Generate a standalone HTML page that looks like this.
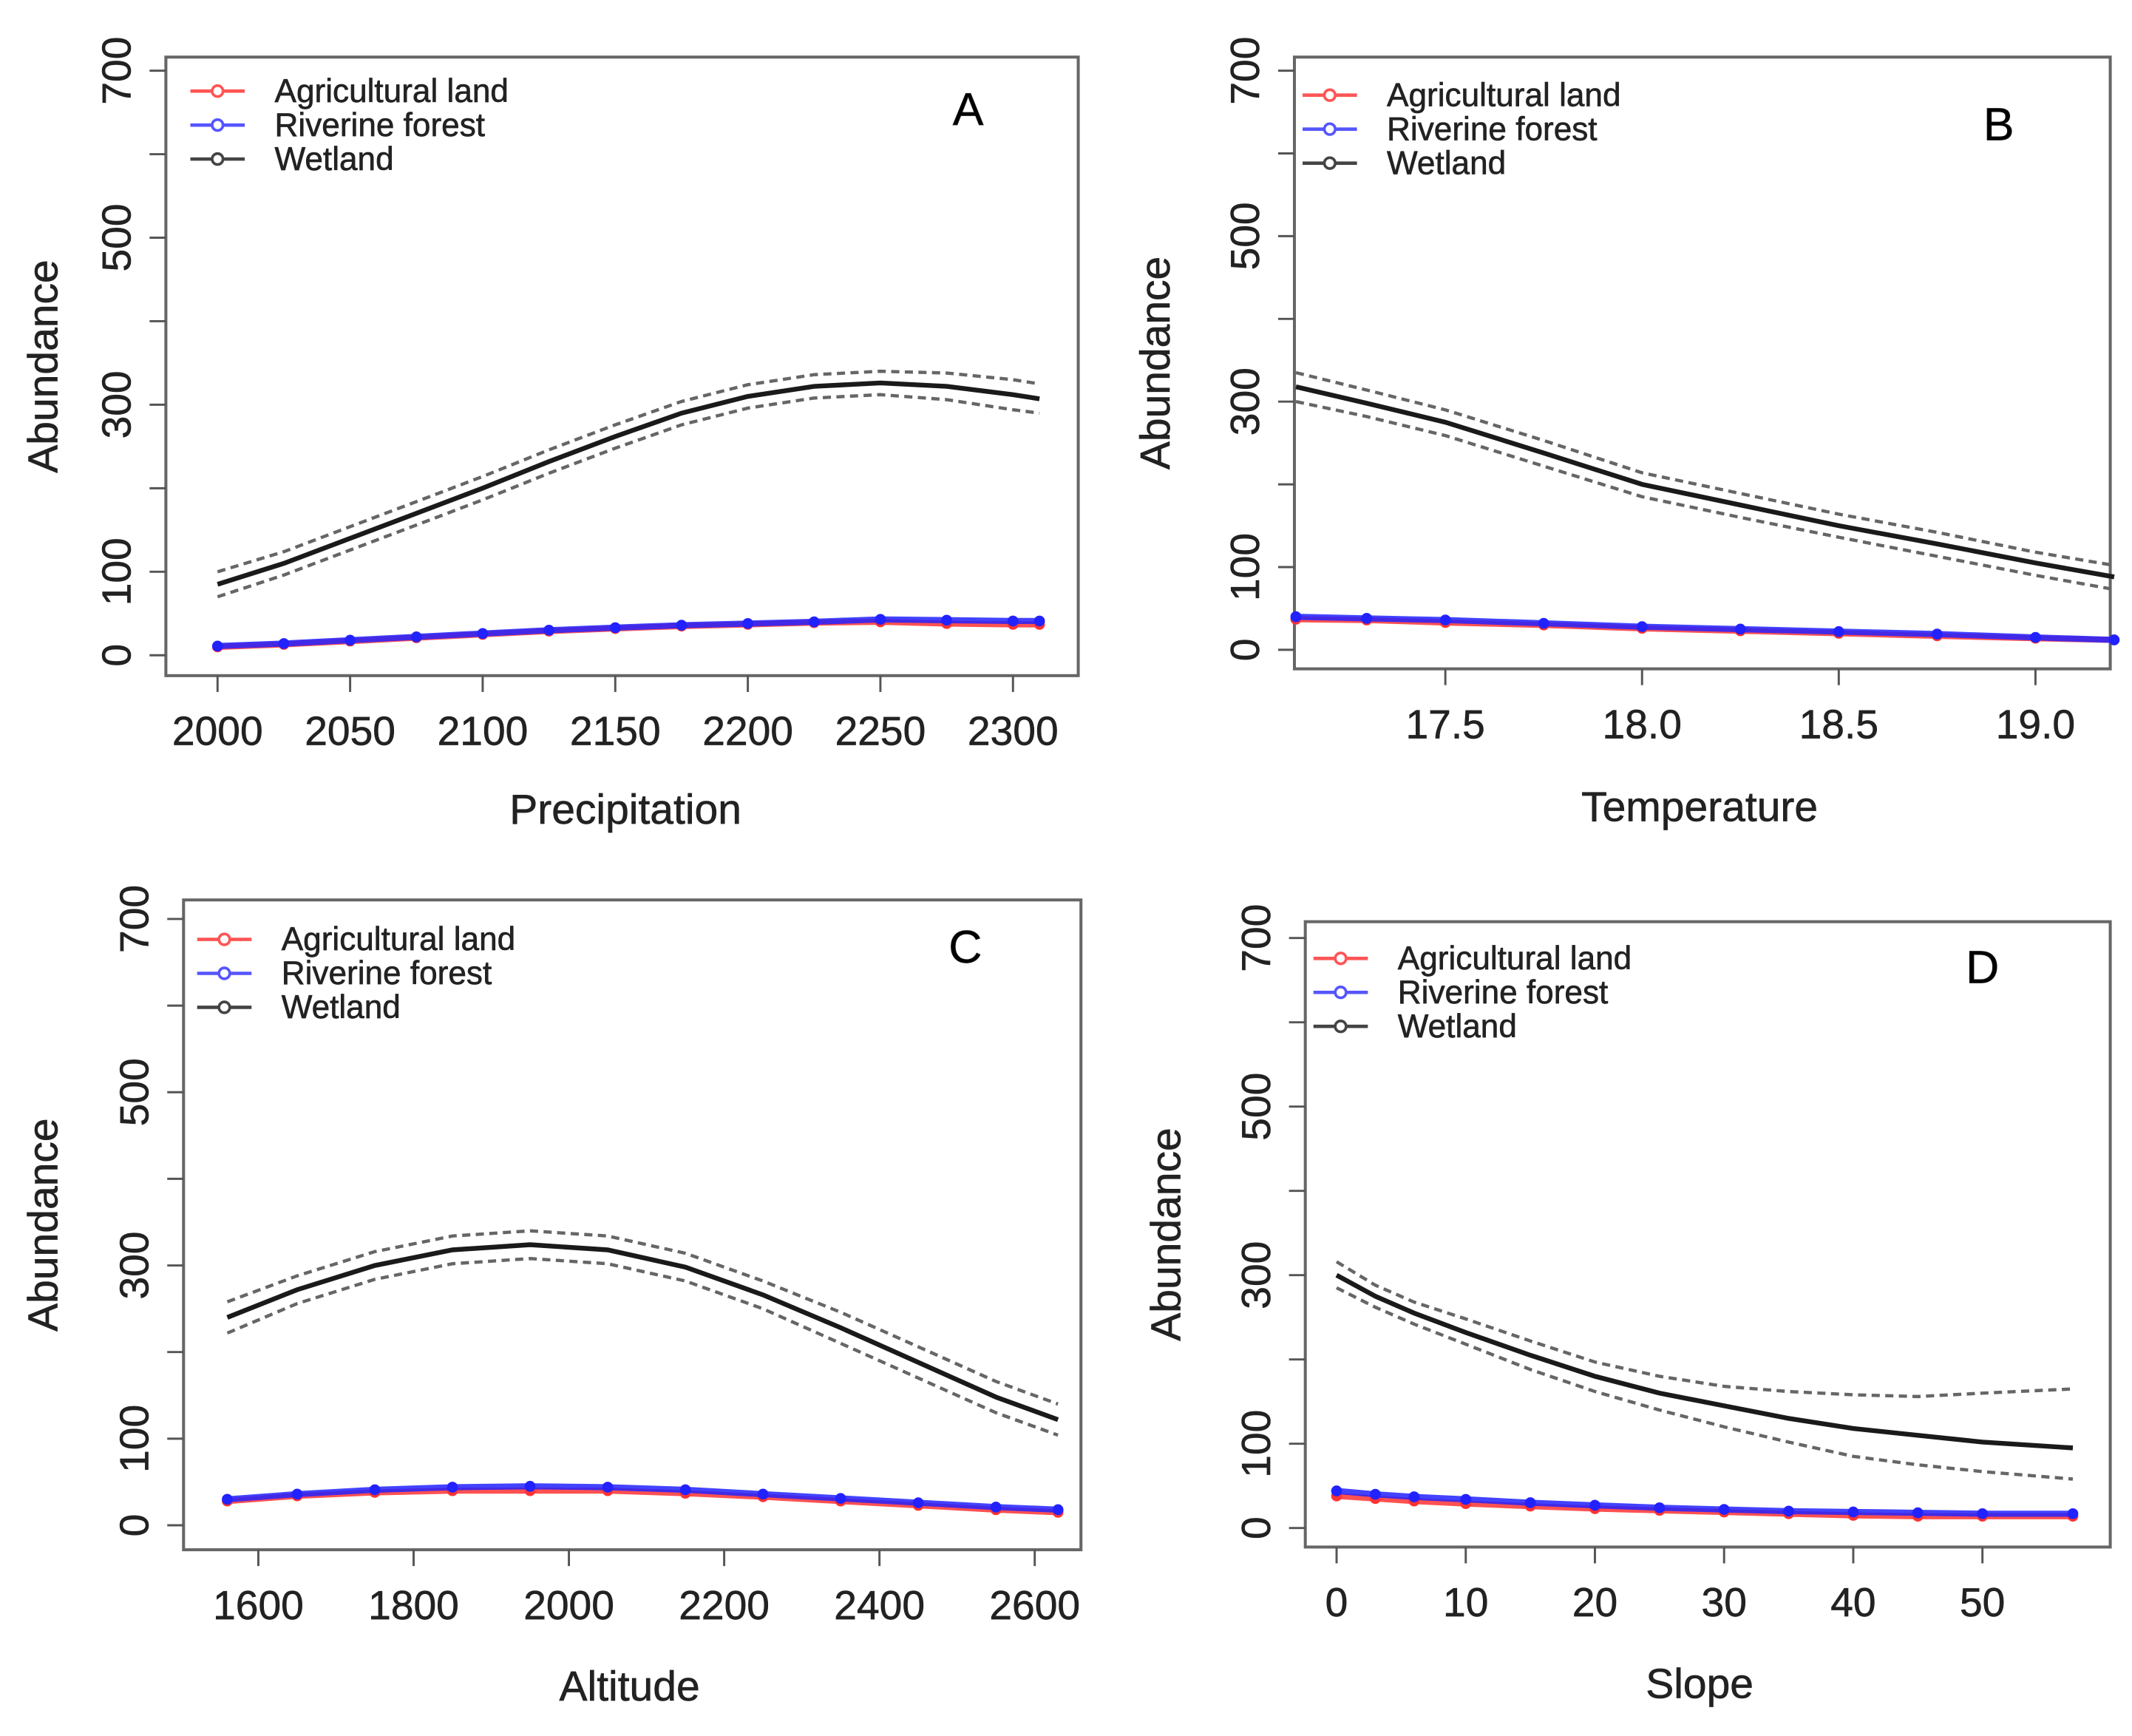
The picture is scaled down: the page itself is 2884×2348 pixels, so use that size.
<!DOCTYPE html>
<html><head><meta charset="utf-8"><style>
html,body{margin:0;padding:0;background:#fff;}
svg{display:block;}
text{font-family:"Liberation Sans",Arial,sans-serif;stroke:#222;stroke-width:0.35px;}
</style></head><body>
<svg id="fig" width="2884" height="2348" viewBox="0 0 1568 1277" preserveAspectRatio="none" xmlns="http://www.w3.org/2000/svg"></svg>
<script>
// ---- Data (top level) ----
const seriesNames = ["Agricultural land","Riverine forest","Wetland"];
const yTickValues = [0,100,200,300,400,500,600,700];
const yTickLabels = ["0","100","","300","","500","","700"];

// Panel A: Precipitation
const aX = [2000,2025,2050,2075,2100,2125,2150,2175,2200,2225,2250,2275,2300,2310];
const aWet = [85,110,140,170,200,232,262,290,310,322,326,322,312,307];
const aWetHi = [100,124,154,184,214,246,276,304,324,336,340,338,330,325];
const aWetLo = [70,96,126,156,186,218,248,276,296,308,312,306,294,290];
const aAgr = [10,13,17,21,25,29,32,35,37,39,40,38,37,37];
const aRiv = [11,14,18,22,26,30,33,36,38,40,43,42,41,41];
const aXTicks = [2000,2050,2100,2150,2200,2250,2300];

// Panel B: Temperature
const bX = [17.12,17.3,17.5,17.75,18.0,18.25,18.5,18.75,19.0,19.2];
const bWet = [318,298,275,238,200,175,150,128,105,88];
const bWetHi = [335,314,290,253,214,189,164,142,118,102];
const bWetLo = [300,282,259,222,185,160,136,113,90,73];
const bAgr = [37,36,33,30,26,23,20,17,14,12];
const bRiv = [40,38,36,32,28,25,22,19,15,12];
const bXTicks = [17.5,18.0,18.5,19.0];

// Panel C: Altitude
const cX = [1560,1650,1750,1850,1950,2050,2150,2250,2350,2450,2550,2630];
const cWet = [240,272,300,318,324,318,298,266,228,188,148,122];
const cWetHi = [258,288,316,334,340,334,314,282,246,206,166,140];
const cWetLo = [222,256,284,302,308,302,282,250,210,170,130,104];
const cAgr = [28,34,38,40,40,40,37,33,28,23,18,15];
const cRiv = [30,36,41,44,45,44,41,36,31,26,21,18];
const cXTicks = [1600,1800,2000,2200,2400,2600];

// Panel D: Slope
const dX = [0,3,6,10,15,20,25,30,35,40,45,50,57];
const dWet = [300,275,255,232,205,180,160,145,130,118,110,102,95];
const dWetHi = [316,288,268,248,222,197,180,168,162,158,156,160,165];
const dWetLo = [285,262,242,218,188,162,140,120,102,85,75,67,58];
const dAgr = [38,35,32,29,26,23,21,19,17,15,14,14,14];
const dRiv = [44,40,37,34,30,27,24,22,20,19,18,17,17];
const dXTicks = [0,10,20,30,40,50];

const panels = [
 {id:"a",letter:"A",xlab:"Precipitation",box:[122,42,793,497],y0:482,y700:52,xv:[2000,2300],xp:[160,745],
  x:aX,wet:aWet,hi:aWetHi,lo:aWetLo,agr:aAgr,riv:aRiv,ticks:aXTicks,fmt:v=>String(v),leg:[140,67],let:[712,80],xl:[460,595],yl:32},
 {id:"b",letter:"B",xlab:"Temperature",box:[952,42,1552,492],y0:478,y700:52,xv:[17.5,19.0],xp:[1063,1497],
  x:bX,wet:bWet,hi:bWetHi,lo:bWetLo,agr:bAgr,riv:bRiv,ticks:bXTicks,fmt:v=>v.toFixed(1),leg:[958,70],let:[1470,91],xl:[1250,593],yl:850},
 {id:"c",letter:"C",xlab:"Altitude",box:[135,662,795,1140],y0:1122,y700:676,xv:[1600,2600],xp:[190,761],
  x:cX,wet:cWet,hi:cWetHi,lo:cWetLo,agr:cAgr,riv:cRiv,ticks:cXTicks,fmt:v=>String(v),leg:[145,691],let:[710,696],xl:[463,1240],yl:32},
 {id:"d",letter:"D",xlab:"Slope",box:[960,678,1552,1138],y0:1124,y700:690,xv:[0,50],xp:[983,1458],
  x:dX,wet:dWet,hi:dWetHi,lo:dWetLo,agr:dAgr,riv:dRiv,ticks:dXTicks,fmt:v=>String(v),leg:[966,705],let:[1458,711],xl:[1250,1238],yl:858}
];

const NS="http://www.w3.org/2000/svg";
const svg=document.getElementById("fig");
function mk(tag,attrs,parent){const e=document.createElementNS(NS,tag);for(const k in attrs)e.setAttribute(k,attrs[k]);(parent||svg).appendChild(e);return e;}

panels.forEach(p=>{
  const g=mk("g",{});
  
  
  const sx=v=>p.xp[0]+(v-p.xv[0])*(p.xp[1]-p.xp[0])/(p.xv[1]-p.xv[0]);
  const sy=v=>p.y0+(v)*(p.y700-p.y0)/700;
  const [L,T,R,B]=p.box;
  const frame=mk("rect",{x:L,y:T,width:R-L,height:B-T,fill:"none",stroke:"#666","stroke-width":2.2},g);
  
  
  yTickValues.forEach((v,i)=>{
    const y=sy(v);
    const t=mk("line",{x1:L-12,x2:L,y1:y,y2:y,stroke:"#555","stroke-width":1.6},g);
    
    
    if(yTickLabels[i]){
      const tx=mk("text",{x:0,y:0,transform:`translate(${L-26},${y}) rotate(-90)`,"text-anchor":"middle","font-size":30,fill:"#222"},g);
      tx.textContent=yTickLabels[i];
      
      
    }
  });
  p.ticks.forEach(v=>{
    const x=sx(v);
    const t=mk("line",{x1:x,x2:x,y1:B,y2:B+12,stroke:"#555","stroke-width":1.6},g);
    
    
    const tx=mk("text",{x:x,y:B+51,"text-anchor":"middle","font-size":30,fill:"#222"},g);
    tx.textContent=p.fmt(v);
    
    
  });
  const xt=mk("text",{x:p.xl[0],y:p.xl[1]+11,"text-anchor":"middle","font-size":31,fill:"#222"},g);
  xt.textContent=p.xlab;
  
  
  const yc=(T+B)/2;
  const yt=mk("text",{x:0,y:0,transform:`translate(${p.yl+10},${yc}) rotate(-90)`,"text-anchor":"middle","font-size":31,fill:"#222"},g);
  yt.textContent="Abundance";
  
  
  const lt=mk("text",{x:p.let[0],y:p.let[1]+12,"text-anchor":"middle","font-size":34,fill:"#000"},g);
  lt.textContent=p.letter;
  
  

  const pts=(ys)=>p.x.map((v,i)=>sx(v).toFixed(1)+","+sy(ys[i]).toFixed(1)).join(" ");
  const ci1=mk("polyline",{points:pts(p.hi),fill:"none",stroke:"#666","stroke-width":2.4,"stroke-dasharray":"6,4"},g);
  
  
  const ci2=mk("polyline",{points:pts(p.lo),fill:"none",stroke:"#666","stroke-width":2.4,"stroke-dasharray":"6,4"},g);
  
  
  const wl=mk("polyline",{points:pts(p.wet),fill:"none",stroke:"#1a1a1a","stroke-width":3.5},g);
  
  
  [[p.agr,"#f33","agricultural"],[p.riv,"#22f","riverine"]].forEach(([ys,c,n])=>{
    const l=mk("polyline",{points:pts(ys),fill:"none",stroke:c,"stroke-width":4.5,opacity:0.85},g);
    
    
    p.x.forEach((v,i)=>{
      const ci=mk("circle",{cx:sx(v),cy:sy(ys[i]),r:3.5,fill:c,stroke:c,"stroke-width":1},g);
      
      
    });
  });
  const lg=mk("g",{},g);
  
  
  const cols=["#f55","#55f","#444"];
  seriesNames.forEach((s,i)=>{
    const y=p.leg[1]+i*25;
    const ln=mk("line",{x1:p.leg[0],x2:p.leg[0]+40,y1:y,y2:y,stroke:cols[i],"stroke-width":2.5},lg);
    
    
    const cc=mk("circle",{cx:p.leg[0]+20,cy:y,r:4,fill:"#fff",stroke:cols[i],"stroke-width":2},lg);
    
    
    const tx=mk("text",{x:p.leg[0]+62,y:y+8,"font-size":24,fill:"#222"},lg);
    tx.textContent=s;
    
    
  });
});
</script>
</body></html>
